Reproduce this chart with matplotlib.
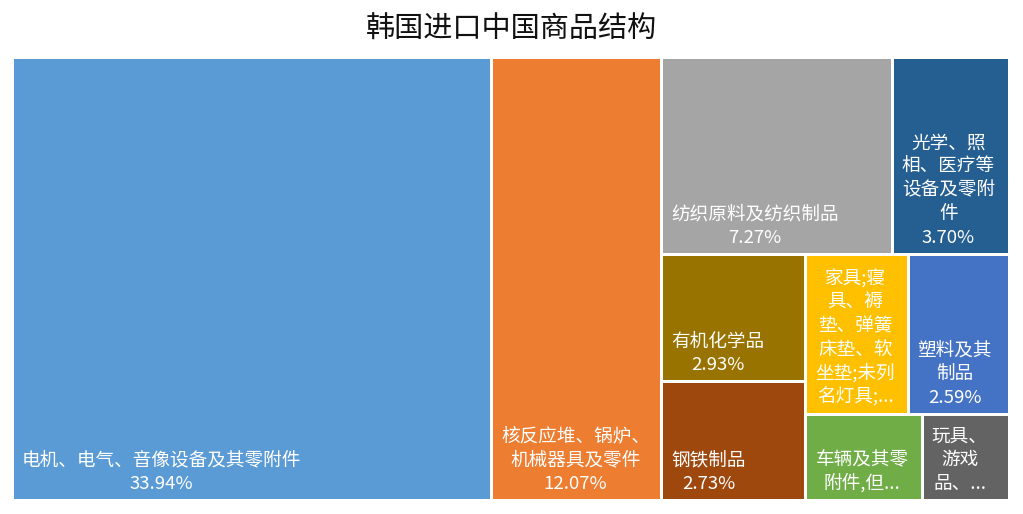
import matplotlib
matplotlib.use("Agg")
import matplotlib.pyplot as plt
from matplotlib.patches import Rectangle

plt.rcParams['font.family'] = ['Noto Sans CJK SC', 'DejaVu Sans']

# data (share of Korea's imports from China, %), in layout order
names = [
    ["电机、电气、音像设备及其零附件"],
    ["核反应堆、锅炉、", "机械器具及零件"],
    ["纺织原料及纺织制品"],
    ["光学、照", "相、医疗等", "设备及零附", "件"],
    ["有机化学品"],
    ["钢铁制品"],
    ["家具;寝", "具、褥", "垫、弹簧", "床垫、软", "坐垫;未列", "名灯具;..."],
    ["塑料及其", "制品"],
    ["车辆及其零", "附件,但..."],
    ["玩具、", "游戏", "品、..."],
]
shares = [33.94, 12.07, 7.27, 3.70, 2.93, 2.73, 2.61, 2.59, 1.60, 1.20]
show_pct = [True, True, True, True, True, True, False, True, False, False]
colors = ['#5B9BD5', '#ED7D31', '#A5A5A5', '#255E91', '#997300',
          '#9E480E', '#FFC000', '#4472C4', '#70AD47', '#636363']
# how many items go in each strip of the treemap
strips = [1, 1, 2, 2, 2, 1, 1]


def strip_layout(vals, w, h, groups):
    # strips run along the shorter side of what is left
    x, y = 0.0, 0.0
    scale = w * h / sum(vals)
    rects = []
    i = 0
    for n in groups:
        grp = vals[i:i + n]
        s = sum(grp)
        if w >= h:
            cw = s * scale / h
            yy = y
            for v in grp:
                hh = v * scale / cw
                rects.append((x, yy, cw, hh))
                yy += hh
            x += cw
            w -= cw
        else:
            rh = s * scale / w
            xx = x
            for v in grp:
                ww = v * scale / rh
                rects.append((xx, y, ww, rh))
                xx += ww
            y += rh
            h -= rh
        i += n
    return rects


FW, FH = 1023, 514
fig = plt.figure(figsize=(FW / 100, FH / 100), dpi=100)
# plot area in pixels: left, top, width, height
PL, PT, PW, PH = 12.5, 57.5, 997.0, 442.7
ax = fig.add_axes([PL / FW, 1 - (PT + PH) / FH, PW / FW, PH / FH])
ax.set_xlim(0, PW)
ax.set_ylim(PH, 0)
ax.axis('off')

gap = 1.5
pad = 8
pitch = 23.7
fs = 13.4
renderer = fig.canvas.get_renderer()

rects = strip_layout(shares, PW, PH, strips)
for (x, y, w, h), lab, v, sp, c in zip(rects, names, shares, show_pct, colors):
    ax.add_patch(Rectangle((x + gap, y + gap), w - 2 * gap, h - 2 * gap,
                           facecolor=c, edgecolor='none'))
    lines = list(lab)
    if sp:
        lines.append(f"{v:.2f}%")
    texts = [ax.text(0, 0, t, color='white', fontsize=fs,
                     ha='center', va='baseline') for t in lines]
    maxw = max(t.get_window_extent(renderer).width for t in texts)
    cx = x + gap + pad + maxw / 2
    base = y + h - gap - 10
    for k, t in enumerate(texts):
        t.set_position((cx, base - (len(texts) - 1 - k) * pitch))

fig.text(0.5, 1 - 30 / FH, "韩国进口中国商品结构", ha='center', va='center',
         fontsize=21, color='#111111', fontweight='light')

fig.savefig("out.png", dpi=100)
